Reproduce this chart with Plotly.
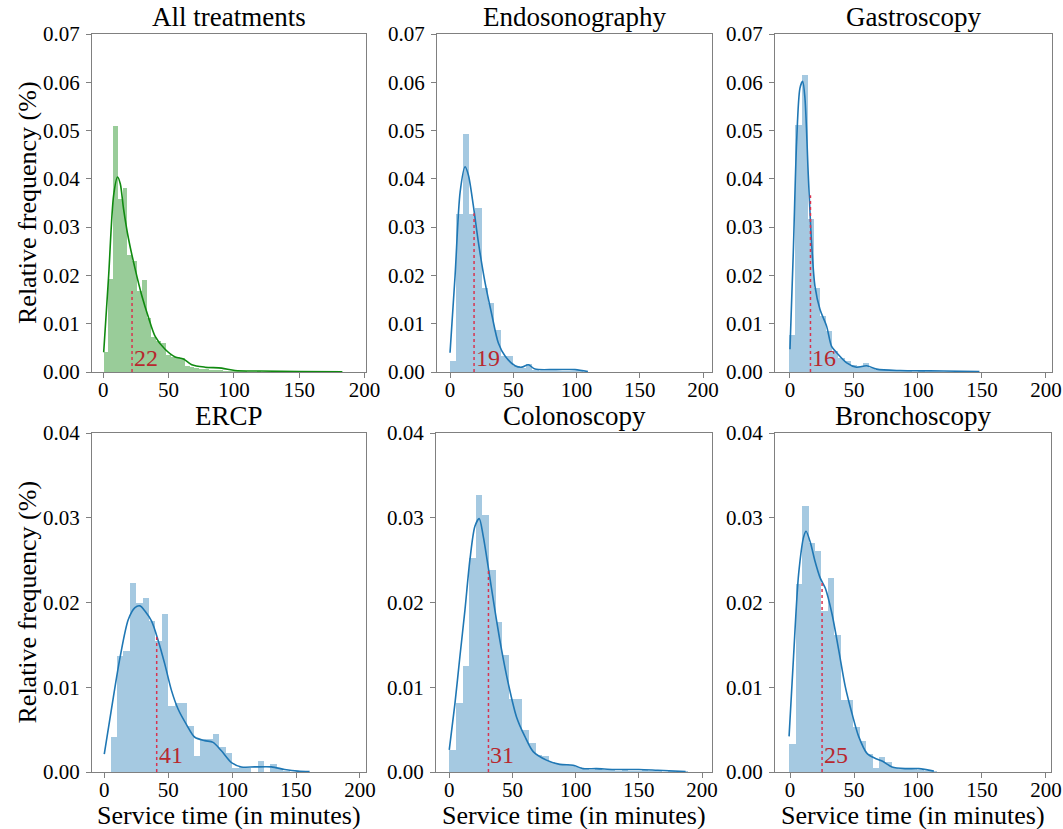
import plotly.graph_objects as go

titles = ["All treatments", "Endosonography", "Gastroscopy", "ERCP", "Colonoscopy", "Bronchoscopy"]
medians = [22, 19, 16, 41, 31, 25]
median_heights = [0.0168, 0.0329, 0.0366, 0.0160, 0.0238, 0.0223]
bin_starts = [0.2, 0.0, -0.5, 5.0, 0.0, -0.5]
bin_widths = [3.66, 5.0, 4.8, 5.0, 5.25, 5.0]

hist_all = [0.0041, 0.0192, 0.0510, 0.0359, 0.0382, 0.0243, 0.0229, 0.0168, 0.0190, 0.0111,
            0.0073, 0.0064, 0.0060, 0.0036, 0.0031, 0.0031, 0.0028, 0.0012, 0.0010, 0.0008,
            0.0007, 0.0006, 0.0005, 0.0004, 0.0004, 0.0003, 0.0003, 0.0002, 0.0002, 0.0002,
            0.0001, 0.0001, 0.0002, 0.0001, 0.0001, 0.0001, 0.0000, 0.0001, 0.0001, 0.0000,
            0.0001, 0.0000, 0.0000, 0.0001, 0.0000, 0.0000, 0.0001, 0.0000, 0.0000, 0.0001]
hist_endo = [0.0022, 0.0328, 0.0492, 0.0328, 0.0340, 0.0175, 0.0142, 0.0088, 0.0033, 0.0033,
             0.0012, 0.0008, 0.0017, 0.0004, 0.0003, 0.0002, 0.0003, 0.0002, 0.0003, 0.0002, 0.0003]
hist_gastro = [0.0076, 0.0512, 0.0616, 0.0317, 0.0173, 0.0116, 0.0085, 0.0043, 0.0030, 0.0022,
               0.0015, 0.0012, 0.0018, 0.0008, 0.0005, 0.0004, 0.0003, 0.0003, 0.0002, 0.0002,
               0.0001, 0.0002, 0.0001, 0.0001, 0.0001, 0.0000, 0.0001, 0.0001, 0.0000, 0.0000, 0.0001]
hist_ercp = [0.0041, 0.0137, 0.0143, 0.0223, 0.0200, 0.0205, 0.0178, 0.0155, 0.0187, 0.0078,
             0.0082, 0.0082, 0.0054, 0.0019, 0.0039, 0.0039, 0.0045, 0.0029, 0.0023, 0.0005,
             0.0006, 0.0005, 0.0000, 0.0013, 0.0000, 0.0010, 0.0004, 0.0001, 0.0000, 0.0001, 0.0001]
hist_colo = [0.0026, 0.0081, 0.0125, 0.0253, 0.0327, 0.0303, 0.0238, 0.0177, 0.0138, 0.0086,
             0.0086, 0.0050, 0.0034, 0.0020, 0.0019, 0.0012, 0.0009, 0.0009, 0.0008, 0.0006,
             0.0003, 0.0002, 0.0004, 0.0002, 0.0002, 0.0001, 0.0002, 0.0001, 0.0001, 0.0002,
             0.0001, 0.0001, 0.0000, 0.0001, 0.0000, 0.0001]
hist_broncho = [0.0033, 0.0222, 0.0314, 0.0270, 0.0261, 0.0190, 0.0229, 0.0162, 0.0085, 0.0085,
                0.0053, 0.0036, 0.0021, 0.0005, 0.0018, 0.0012, 0.0005, 0.0004, 0.0004, 0.0004,
                0.0002, 0.0001, 0.0001]

kde_all_x = [0.3, 4.1, 7.9, 10.9, 13, 15.5, 19.3, 24.4, 29.5, 34.6, 39.7, 47.3, 55, 61.3, 67.7,
             77.9, 90.6, 100.8, 120, 150, 183]
kde_all_y = [0.0041, 0.0200, 0.0366, 0.0404, 0.0390, 0.0338, 0.0276, 0.0213, 0.0158, 0.0113,
             0.0074, 0.0047, 0.0031, 0.0027, 0.0015, 0.0010, 0.0008, 0.0003, 0.0002, 0.0001, 0.00005]
kde_endo_x = [0, 4, 8, 11.9, 14.5, 18.4, 22.4, 27.7, 33, 38.2, 43.5, 51.4, 56.7, 61.9, 67.2, 83, 98.8, 109]
kde_endo_y = [0.0040, 0.0200, 0.0373, 0.0425, 0.0408, 0.0345, 0.0269, 0.0185, 0.0119, 0.0060,
              0.0033, 0.0013, 0.0010, 0.0015, 0.0006, 0.0005, 0.0005, 0.0001]
kde_gastro_x = [0, 2.6, 5.2, 7.8, 9.9, 11.7, 14.3, 17, 19.5, 23.4, 28.6, 32.5, 36.5, 44.3, 52,
                59.9, 67.7, 86, 120, 148]
kde_gastro_y = [0.0047, 0.0248, 0.0477, 0.0588, 0.0602, 0.0567, 0.0408, 0.0262, 0.0178, 0.0130,
                0.0095, 0.0053, 0.0040, 0.0019, 0.0010, 0.0013, 0.0006, 0.0003, 0.0002, 0.0001]
kde_ercp_x = [0, 5.8, 12.3, 18.8, 24, 27.9, 31.8, 37, 42.2, 47.4, 52.6, 57.8, 64.3, 70.8, 78.6,
              85.1, 91.6, 99.5, 107.3, 117.7, 130.7, 141.1, 151.5, 160.6]
kde_ercp_y = [0.0021, 0.0076, 0.0135, 0.0180, 0.0194, 0.0196, 0.0190, 0.0178, 0.0155, 0.0127,
              0.0096, 0.0074, 0.0056, 0.0041, 0.0037, 0.0035, 0.0025, 0.0011, 0.0006, 0.0006,
              0.0006, 0.0003, 0.0001, 0.00004]
kde_colo_x = [0, 4.5, 8.4, 12.4, 16.3, 20.3, 23.7, 26.9, 30.8, 36.1, 41.4, 46.6, 53.2, 59.8, 66.4,
              76.9, 87.5, 98, 105.9, 116.5, 130, 150, 165, 187]
kde_colo_y = [0.0026, 0.0081, 0.0136, 0.0191, 0.0250, 0.0290, 0.0299, 0.0278, 0.0242, 0.0191,
              0.0144, 0.0105, 0.0065, 0.0042, 0.0024, 0.0014, 0.0009, 0.0008, 0.0004, 0.0004,
              0.0003, 0.0003, 0.0002, 0.00005]
kde_broncho_x = [-0.8, 2.7, 6.7, 10.7, 12.5, 16, 19.6, 23.5, 27.5, 32.7, 38, 43.1, 48.4, 53.6,
                 60.1, 66.7, 71.9, 79.7, 90.2, 100.6, 112.4]
kde_broncho_y = [0.0042, 0.0136, 0.0234, 0.0278, 0.0284, 0.0270, 0.0248, 0.0229, 0.0217, 0.0187,
                 0.0144, 0.0101, 0.0069, 0.0042, 0.0022, 0.0016, 0.0013, 0.0006, 0.0004, 0.0004, 0.0001]

x_ticks = [0, 50, 100, 150, 200]
y_ticks_top = [0.00, 0.01, 0.02, 0.03, 0.04, 0.05, 0.06, 0.07]
y_ticks_bottom = [0.00, 0.01, 0.02, 0.03, 0.04]

hists = [hist_all, hist_endo, hist_gastro, hist_ercp, hist_colo, hist_broncho]
kdes = [(kde_all_x, kde_all_y), (kde_endo_x, kde_endo_y), (kde_gastro_x, kde_gastro_y),
        (kde_ercp_x, kde_ercp_y), (kde_colo_x, kde_colo_y), (kde_broncho_x, kde_broncho_y)]

W, H = 1063, 829
x_px = [(92, 366), (437, 712), (775, 1052), (92, 366), (436, 712), (775, 1051)]
y_px = [(34, 372)] * 3 + [(433, 772)] * 3
x_ranges = [[-8.65, 201.1], [-10.3, 207.1], [-11.7, 204.7], [-9.6, 204.7], [-10.5, 207.9], [-11.8, 204.0]]

FONT = "Liberation Serif, Times New Roman, serif"
SPINE = "#808080"
MED_LINE = "#d8344f"
MED_TEXT = "#b8282e"

fig = go.Figure()
annotations = []
for i in range(6):
    ax = "" if i == 0 else str(i + 1)
    xref, yref = "x" + ax, "y" + ax
    green = i == 0
    bar_col = "rgba(0,128,0,0.4)" if green else "rgba(31,119,180,0.4)"
    line_col = "#108a10" if green else "#1f77b4"
    h = hists[i]
    edges = [bin_starts[i] + k * bin_widths[i] for k in range(len(h))]
    fig.add_trace(go.Bar(x=edges, y=h, width=bin_widths[i], offset=0,
                         marker=dict(color=bar_col, line=dict(width=0)),
                         xaxis=xref, yaxis=yref, showlegend=False, hoverinfo="skip"))
    kx, ky = kdes[i]
    fig.add_trace(go.Scatter(x=kx, y=ky, mode="lines",
                             line=dict(color=line_col, width=1.6, shape="spline", smoothing=0.8),
                             xaxis=xref, yaxis=yref, showlegend=False, hoverinfo="skip"))
    fig.add_trace(go.Scatter(x=[medians[i], medians[i]], y=[0, median_heights[i]], mode="lines",
                             line=dict(color=MED_LINE, width=1.5, dash="dot"),
                             xaxis=xref, yaxis=yref, showlegend=False, hoverinfo="skip"))
    annotations.append(dict(x=medians[i], y=0.001, xref=xref, yref=yref, text=str(medians[i]),
                            showarrow=False, xanchor="left", yanchor="bottom", xshift=0, yshift=-6,
                            font=dict(family=FONT, size=24, color=MED_TEXT)))
    x0, x1 = x_px[i]
    y0, y1 = y_px[i]
    top = i < 3
    fig.layout["xaxis" + ax] = dict(
        domain=[x0 / W, x1 / W], range=x_ranges[i], anchor=yref, automargin=False,
        tickvals=x_ticks, ticktext=[str(t) for t in x_ticks],
        ticks="outside", ticklen=5, tickcolor=SPINE, tickwidth=1, ticklabelstandoff=-6,
        showline=True, linecolor=SPINE, linewidth=1.2, mirror=True,
        showgrid=False, zeroline=False,
        tickfont=dict(family=FONT, size=21, color="black"))
    yt = y_ticks_top if top else y_ticks_bottom
    fig.layout["yaxis" + ax] = dict(
        domain=[1 - y1 / H, 1 - y0 / H], range=[0, yt[-1]], anchor=xref, automargin=False,
        tickvals=yt, ticktext=["%.2f" % v for v in yt],
        ticks="outside", ticklen=5, tickcolor=SPINE, tickwidth=1, ticklabelstandoff=2,
        showline=True, linecolor=SPINE, linewidth=1.2, mirror=True,
        showgrid=False, zeroline=False,
        tickfont=dict(family=FONT, size=21, color="black"))
    annotations.append(dict(x=(x0 + x1) / 2 / W, y=1 - y0 / H, xref="paper", yref="paper",
                            text=titles[i], showarrow=False, xanchor="center", yanchor="bottom",
                            font=dict(family=FONT, size=27, color="black")))
    if not top:
        annotations.append(dict(x=(x0 + x1) / 2 / W, y=1 - 799 / H, xref="paper", yref="paper",
                                text="Service time (in minutes)", showarrow=False,
                                xanchor="center", yanchor="top",
                                font=dict(family=FONT, size=26, color="black")))

for (y0, y1) in [(34, 372), (433, 772)]:
    annotations.append(dict(x=27 / W, y=1 - (y0 + y1) / 2 / H, xref="paper", yref="paper",
                            text="Relative frequency (%)", showarrow=False, textangle=-90,
                            xanchor="center", yanchor="middle",
                            font=dict(family=FONT, size=26, color="black")))

fig.update_layout(width=W, height=H, autosize=False, margin=dict(l=0, r=0, t=0, b=0),
                  paper_bgcolor="white", plot_bgcolor="white", bargap=0,
                  annotations=annotations)

post = ("document.documentElement.style.margin='0';"
        "document.body.style.margin='0';document.body.style.padding='0';"
        "document.documentElement.style.overflow='hidden';"
        "var gd=document.getElementById('{plot_id}');"
        "var par=gd.parentElement;par.style.position='absolute';"
        "par.style.left='0px';par.style.top='0px';par.style.margin='0';")
fig.write_html("out.html", post_script=post, config={"displayModeBar": False})
